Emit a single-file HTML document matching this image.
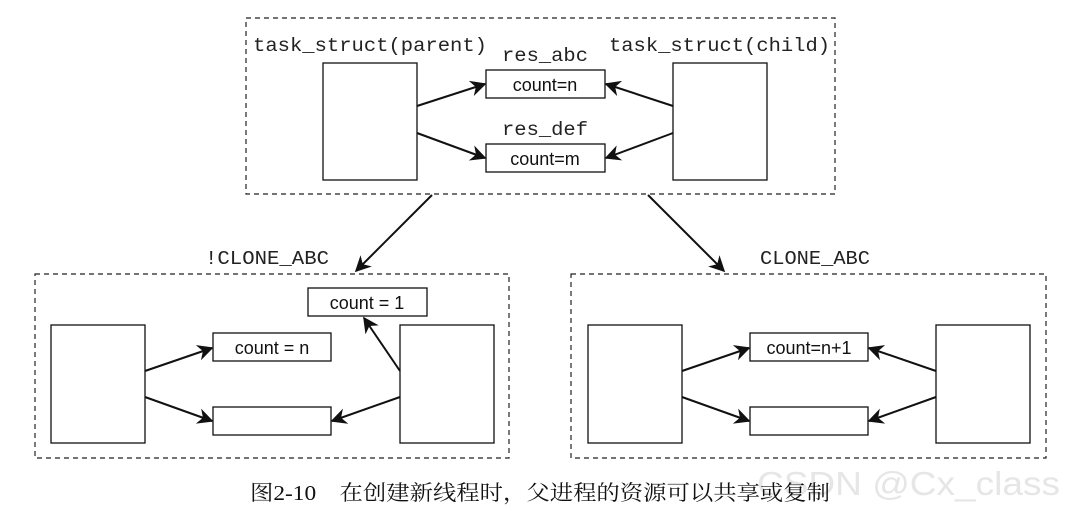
<!DOCTYPE html>
<html><head><meta charset="utf-8"><style>
html,body{margin:0;padding:0;background:#fff;width:1075px;height:511px;overflow:hidden}
.m{font-family:"Liberation Mono",monospace;font-size:19px;fill:#222}
.c{font-family:"Liberation Sans Narrow","Liberation Sans",sans-serif;font-size:18px;fill:#111}
</style></head><body>
<svg width="1075" height="511" viewBox="0 0 1075 511" xmlns="http://www.w3.org/2000/svg">
<defs>
<marker id="b" viewBox="0 0 10 10" refX="9" refY="5" markerWidth="16" markerHeight="16" orient="auto" markerUnits="userSpaceOnUse"><path d="M0,0 L10,5 L0,10 L3,5z" fill="#111"/></marker></defs>
<g fill="none" stroke="#222" stroke-width="1.2" stroke-dasharray="5,4">
<rect x="246" y="18" width="589" height="176"/>
<rect x="35" y="274" width="474" height="184"/>
<rect x="571" y="274" width="475" height="184"/>
</g>
<g fill="#fff" stroke="#111" stroke-width="1.3">
<rect x="323" y="63" width="94" height="117"/>
<rect x="673" y="63" width="94" height="117"/>
<rect x="486" y="70" width="119" height="28"/>
<rect x="486" y="144" width="119" height="28"/>
<rect x="51" y="325" width="94" height="118"/>
<rect x="400" y="325" width="94" height="118"/>
<rect x="213" y="333" width="118" height="28"/>
<rect x="213" y="407" width="118" height="28"/>
<rect x="308" y="288" width="119" height="28"/>
<rect x="588" y="325" width="94" height="118"/>
<rect x="936" y="325" width="94" height="118"/>
<rect x="750" y="333" width="118" height="28"/>
<rect x="750" y="407" width="118" height="28"/>
</g>
<g stroke="#111" stroke-width="2" fill="none">
<line x1="417" y1="106" x2="485" y2="84" marker-end="url(#b)"/>
<line x1="417" y1="133" x2="485" y2="158" marker-end="url(#b)"/>
<line x1="673" y1="106" x2="606" y2="84" marker-end="url(#b)"/>
<line x1="673" y1="133" x2="606" y2="158" marker-end="url(#b)"/>
<line x1="432" y1="195" x2="356" y2="271" marker-end="url(#b)"/>
<line x1="648" y1="195" x2="724" y2="271" marker-end="url(#b)"/>
<line x1="145" y1="371" x2="212" y2="348" marker-end="url(#b)"/>
<line x1="145" y1="397" x2="212" y2="421" marker-end="url(#b)"/>
<line x1="400" y1="397" x2="332" y2="421" marker-end="url(#b)"/>
<line x1="400" y1="371" x2="364" y2="318" marker-end="url(#b)"/>
<line x1="682" y1="371" x2="749" y2="348" marker-end="url(#b)"/>
<line x1="682" y1="397" x2="749" y2="421" marker-end="url(#b)"/>
<line x1="936" y1="371" x2="869" y2="348" marker-end="url(#b)"/>
<line x1="936" y1="397" x2="869" y2="421" marker-end="url(#b)"/>
</g>
<text class="m" x="253" y="51" textLength="234" lengthAdjust="spacingAndGlyphs">task_struct(parent)</text>
<text class="m" x="609" y="51" textLength="221" lengthAdjust="spacingAndGlyphs">task_struct(child)</text>
<text class="m" x="502" y="61" textLength="86" lengthAdjust="spacingAndGlyphs">res_abc</text>
<text class="m" x="502" y="135" textLength="86" lengthAdjust="spacingAndGlyphs">res_def</text>
<text class="m" x="205" y="264" textLength="124" lengthAdjust="spacingAndGlyphs">!CLONE_ABC</text>
<text class="m" x="760" y="264" textLength="110" lengthAdjust="spacingAndGlyphs">CLONE_ABC</text>
<text class="c" x="545" y="91" text-anchor="middle">count=n</text>
<text class="c" x="545" y="165" text-anchor="middle">count=m</text>
<text class="c" x="272" y="354" text-anchor="middle">count = n</text>
<text class="c" x="367" y="309" text-anchor="middle">count = 1</text>
<text class="c" x="809" y="354" text-anchor="middle">count=n+1</text>
<text x="757" y="495" textLength="303" lengthAdjust="spacingAndGlyphs" style="font-family:'Liberation Sans',sans-serif;font-size:33px;fill:#e6e6e6">CSDN @Cx_class</text>
<text x="250" y="500" textLength="580" lengthAdjust="spacingAndGlyphs" style="font-family:'Liberation Serif','Noto Serif CJK SC',serif;font-size:21px;fill:#111">图2-10　在创建新线程时，父进程的资源可以共享或复制</text>
</svg>
</body></html>
